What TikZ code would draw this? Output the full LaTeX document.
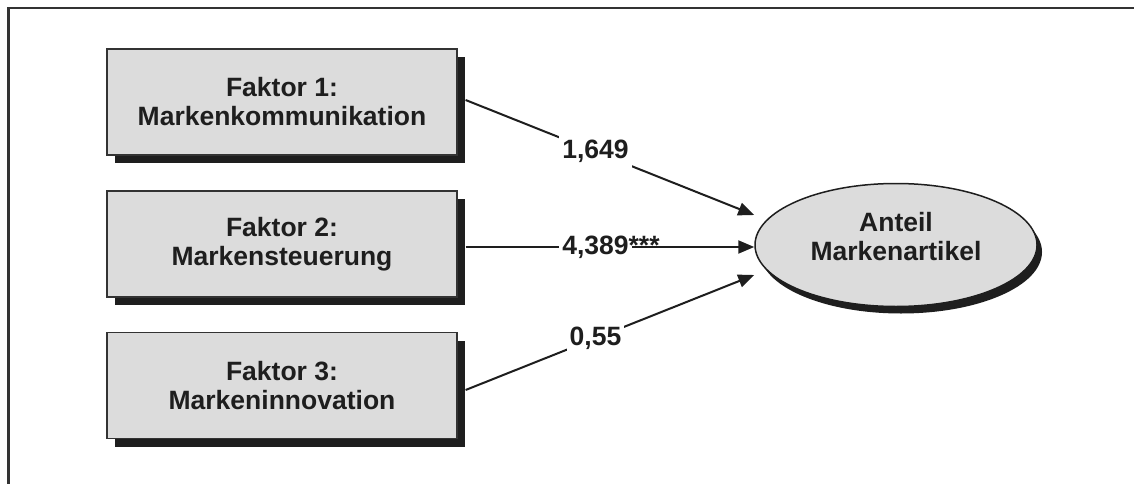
\documentclass[tikz,border=0pt]{standalone}
\usepackage{fontspec}
\setmainfont{Liberation Sans}
\usetikzlibrary{arrows.meta,shapes.geometric,shadows}
\definecolor{boxgray}{HTML}{DCDCDC}
\definecolor{ink}{HTML}{1E1E1E}
\definecolor{framec}{HTML}{333333}
\tikzset{
  bigfont/.style={font=\bfseries\fontsize{26.5}{29}\selectfont, text=ink},
  factorbox/.style={bigfont, draw=framec, line width=1.2pt, fill=boxgray,
    minimum width=350pt, minimum height=106pt, inner sep=0pt, align=center,
    drop shadow={shadow xshift=8pt, shadow yshift=-8pt, fill=ink, opacity=1}},
  targetell/.style={ellipse, draw=ink, line width=1.5pt, fill=boxgray,
    minimum width=282pt, minimum height=123pt, inner sep=0pt,
    drop shadow={shadow xshift=5pt, shadow yshift=-7pt, fill=ink, opacity=1}},
  targettext/.style={bigfont, align=center, inner sep=0pt},
  coef/.style={bigfont, fill=white, inner xsep=3pt, inner ysep=14pt},
  effect/.style={draw=ink, line width=2pt, -{Triangle[length=16pt,width=13pt]}},
  frameline/.style={draw=framec, line width=2.5pt}
}
\begin{document}
\begin{tikzpicture}[x=1pt, y=-1pt]
  \useasboundingbox (0,0) rectangle (1134,484);
  \fill[white] (0,0) rectangle (1134,484);
  % outer frame (only top and left visible)
  \coordinate (fbl) at (8.5,484);
  \coordinate (ftl) at (8.5,8);
  \coordinate (ftr) at (1134,8);
  \draw[frameline] (fbl) -- (ftl) -- (ftr);

  \node[factorbox] (f1) at (282,102) {Faktor 1:\\Markenkommunikation};
  \node[factorbox] (f2) at (282,244) {Faktor 2:\\Markensteuerung};
  \node[factorbox] (f3) at (282,385.5) {Faktor 3:\\Markeninnovation};

  \node[targetell] (ziel) at (896,245) {};
  \node[targettext] (zieltext) at ([yshift=8pt]ziel.center) {Anteil\\Markenartikel};

  \draw[effect] ([xshift=8pt,yshift=2pt]f1.east) -- node[coef, pos=0.45] {1,649} ([yshift=30pt]ziel.west);
  \draw[effect] ([xshift=8pt,yshift=-3pt]f2.east) -- node[coef, pos=0.45] {4,389\rlap{***}} ([yshift=-2pt]ziel.west);
  \draw[effect] ([xshift=8pt,yshift=-4.5pt]f3.east) -- node[coef, pos=0.45] {0,55} ([yshift=-30pt]ziel.west);
\end{tikzpicture}
\end{document}
